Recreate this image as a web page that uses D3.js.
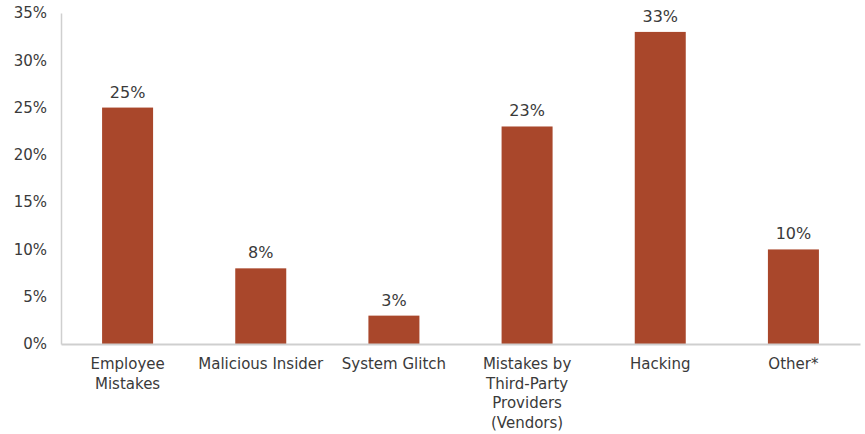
<!DOCTYPE html>
<html>
<head>
<meta charset="utf-8">
<script src="https://cdn.jsdelivr.net/npm/d3@7"></script>
<style>
  body { margin: 0; background: #fff; }
  svg text { font-family: "DejaVu Sans", "Open Sans", sans-serif; fill: #3a3a3a; }
</style>
</head>
<body>
<svg id="chart" width="865" height="434"></svg>
<script>
// Causes of data breaches, share of incidents (%)
const categories = [
  ["Employee", "Mistakes"],
  ["Malicious Insider"],
  ["System Glitch"],
  ["Mistakes by", "Third-Party", "Providers", "(Vendors)"],
  ["Hacking"],
  ["Other*"]
];
const values = [25, 8, 3, 23, 33, 10];
const yTicks = [0, 5, 10, 15, 20, 25, 30, 35];

const svg = d3.select("#chart");
const margin = { top: 13, right: 5, bottom: 90, left: 61 };
const width = 865 - margin.left - margin.right;
const height = 434 - margin.top - margin.bottom;

const g = svg.append("g").attr("transform", `translate(${margin.left},${margin.top})`);

const x = d3.scaleBand()
  .domain(d3.range(values.length))
  .range([0, width])
  .paddingInner(0.617)
  .paddingOuter(0.3085);

const y = d3.scaleLinear().domain([0, 35]).range([height, 0]);

// y axis: labels only, light rule
const yAxis = g.append("g")
  .call(d3.axisLeft(y).tickValues(yTicks).tickFormat(d => d + "%").tickSize(0).tickPadding(14));
yAxis.select(".domain").attr("stroke", "#cfcfcf").attr("stroke-width", 1.5);
yAxis.selectAll("text").style("font-size", "15px").attr("fill", "#3a3a3a");

// bars
g.selectAll("rect.bar")
  .data(values)
  .join("rect")
  .attr("class", "bar")
  .attr("x", (d, i) => x(i))
  .attr("y", d => y(d))
  .attr("width", x.bandwidth())
  .attr("height", d => height - y(d))
  .attr("fill", "#a9472b");

// value labels
g.selectAll("text.val")
  .data(values)
  .join("text")
  .attr("class", "val")
  .attr("x", (d, i) => x(i) + x.bandwidth() / 2)
  .attr("y", d => y(d) - 10)
  .attr("text-anchor", "middle")
  .style("font-size", "16px")
  .text(d => d + "%");

// x axis baseline
const xAxis = g.append("g")
  .attr("transform", `translate(0,${height})`)
  .call(d3.axisBottom(x).tickSize(0).tickFormat(""));
xAxis.select(".domain").attr("stroke", "#cfcfcf").attr("stroke-width", 2);

// category labels, multi-line
xAxis.selectAll(".tick").each(function(i) {
  const t = d3.select(this).append("text")
    .attr("text-anchor", "middle")
    .attr("y", 25)
    .style("font-size", "15px")
    .attr("fill", "#3a3a3a");
  categories[i].forEach((line, k) => {
    t.append("tspan").attr("x", 0).attr("dy", k === 0 ? 0 : 19.5).text(line);
  });
});
</script>
</body>
</html>
